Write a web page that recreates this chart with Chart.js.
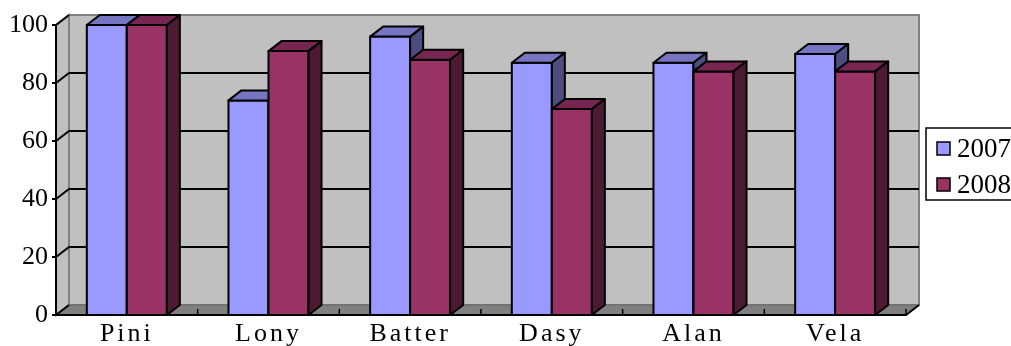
<!DOCTYPE html>
<html>
<head>
<meta charset="utf-8">
<script src="https://cdn.jsdelivr.net/npm/chart.js@4/dist/chart.umd.min.js"></script>
<style>
  body { margin: 0; background: #fff; }
  #wrap { width: 1011px; height: 346px; }
</style>
</head>
<body>
<div id="wrap"><canvas id="bars" width="1011" height="346"></canvas></div>
<script>
// data
var names = ["Pini", "Lony", "Batter", "Dasy", "Alan", "Vela"];
var years = ["2007", "2008"];
var v2007 = [100, 74, 96, 87, 87, 90];
var v2008 = [100, 91, 88, 71, 84, 84];
var yTicks = [0, 20, 40, 60, 80, 100];

// 3d look
var DX = 13, DY = -10;
var front = ["#9999FF", "#993366"];
var topFace = ["#7575C2", "#762650"];
var sideFace = ["#4D4D80", "#4D1A33"];
var serif = "'Liberation Serif', 'DejaVu Serif', serif";

// walls, floor and grid lines behind the bars
var wallPlugin = {
  id: "walls",
  beforeDatasetsDraw: function(chart) {
    var ctx = chart.ctx, a = chart.chartArea, ys = chart.scales.y, xs = chart.scales.x;
    ctx.save();
    // back wall
    ctx.fillStyle = "#C0C0C0";
    ctx.fillRect(a.left + DX, a.top + DY, a.right - a.left, a.bottom - a.top);
    ctx.strokeStyle = "#808080";
    ctx.lineWidth = 2;
    ctx.strokeRect(a.left + DX, a.top + DY, a.right - a.left, a.bottom - a.top);
    // left wall
    ctx.beginPath();
    ctx.moveTo(a.left, a.top);
    ctx.lineTo(a.left + DX, a.top + DY);
    ctx.lineTo(a.left + DX, a.bottom + DY);
    ctx.lineTo(a.left, a.bottom);
    ctx.closePath();
    ctx.fillStyle = "#C0C0C0";
    ctx.fill();
    ctx.stroke();
    // floor
    ctx.beginPath();
    ctx.moveTo(a.left, a.bottom);
    ctx.lineTo(a.left + DX, a.bottom + DY);
    ctx.lineTo(a.right + DX, a.bottom + DY);
    ctx.lineTo(a.right, a.bottom);
    ctx.closePath();
    ctx.fillStyle = "#808080";
    ctx.fill();
    ctx.strokeStyle = "#666";
    ctx.lineWidth = 1;
    ctx.stroke();
    // grid lines on the back and left walls
    ctx.strokeStyle = "#000";
    ctx.lineWidth = 2;
    yTicks.forEach(function(t) {
      var y = ys.getPixelForValue(t);
      ctx.beginPath();
      if (t > 0 && t < 100) {
        ctx.moveTo(a.right + DX, y + DY);
        ctx.lineTo(a.left + DX, y + DY);
      } else {
        ctx.moveTo(a.left + DX, y + DY);
      }
      ctx.lineTo(a.left, y);
      ctx.lineTo(a.left - 4, y);
      ctx.stroke();
    });
    // front axis lines
    ctx.beginPath();
    ctx.moveTo(a.left, a.top);
    ctx.lineTo(a.left, a.bottom);
    ctx.lineTo(a.right, a.bottom);
    ctx.lineTo(a.right + DX, a.bottom + DY);
    ctx.stroke();
    // category ticks on the floor
    ctx.lineWidth = 1.5;
    for (var i = 1; i <= names.length; i++) {
      var x = (xs.getPixelForValue(i - 1) + xs.getPixelForValue(Math.min(i, names.length - 1))) / 2;
      if (i === names.length) x = a.right;
      ctx.beginPath();
      ctx.moveTo(x, a.bottom - 6);
      ctx.lineTo(x, a.bottom);
      ctx.stroke();
    }
    ctx.restore();
  }
};

// boxes: front, top and side faces, drawn per category so they overlap right
var boxPlugin = {
  id: "boxes",
  afterDatasetsDraw: function(chart) {
    var ctx = chart.ctx;
    ctx.save();
    ctx.strokeStyle = "#000";
    ctx.lineWidth = 2;
    ctx.lineJoin = "round";
    for (var i = 0; i < names.length; i++) {
      for (var d = 0; d < chart.data.datasets.length; d++) {
        var bar = chart.getDatasetMeta(d).data[i];
        var p = bar.getProps(["x", "y", "base", "width"], true);
        var l = p.x - p.width / 2, r = p.x + p.width / 2;
        ctx.fillStyle = front[d];
        ctx.fillRect(l, p.y, r - l, p.base - p.y);
        ctx.strokeRect(l, p.y, r - l, p.base - p.y);
        ctx.beginPath();
        ctx.moveTo(l, p.y);
        ctx.lineTo(l + DX, p.y + DY);
        ctx.lineTo(r + DX, p.y + DY);
        ctx.lineTo(r, p.y);
        ctx.closePath();
        ctx.fillStyle = topFace[d];
        ctx.fill();
        ctx.stroke();
        ctx.beginPath();
        ctx.moveTo(r, p.y);
        ctx.lineTo(r + DX, p.y + DY);
        ctx.lineTo(r + DX, p.base + DY);
        ctx.lineTo(r, p.base);
        ctx.closePath();
        ctx.fillStyle = sideFace[d];
        ctx.fill();
        ctx.stroke();
      }
    }
    ctx.restore();
  }
};

// legend box on the right, partly cut off like the original
var legendPlugin = {
  id: "boxLegend",
  afterDraw: function(chart) {
    var ctx = chart.ctx;
    ctx.save();
    ctx.fillStyle = "#fff";
    ctx.fillRect(926, 128, 100, 72);
    ctx.strokeStyle = "#000";
    ctx.lineWidth = 1.5;
    ctx.strokeRect(926, 128, 100, 72);
    ctx.font = "27px " + serif;
    ctx.textBaseline = "middle";
    chart.data.datasets.forEach(function(ds, k) {
      var y = 149 + k * 36;
      ctx.fillStyle = ds.backgroundColor;
      ctx.fillRect(937, y - 7, 13, 13);
      ctx.lineWidth = 1.5;
      ctx.strokeRect(937, y - 7, 13, 13);
      ctx.fillStyle = "#000";
      ctx.fillText(ds.label, 957, y + 1);
    });
    ctx.restore();
  }
};

// wider letters on the category labels
var spacingPlugin = {
  id: "spacing",
  afterLayout: function(chart) {
    var s = chart.scales.x;
    if (s._spaced) return;
    var orig = s.drawLabels.bind(s);
    s.drawLabels = function(area) {
      chart.ctx.save();
      chart.ctx.letterSpacing = "3px";
      orig(area);
      chart.ctx.restore();
    };
    s._spaced = true;
  }
};

new Chart(document.getElementById("bars"), {
  type: "bar",
  data: {
    labels: names,
    datasets: [
      { label: years[0], data: v2007, backgroundColor: front[0], borderWidth: 0 },
      { label: years[1], data: v2008, backgroundColor: front[1], borderWidth: 0 }
    ]
  },
  options: {
    responsive: false,
    animation: false,
    events: [],
    layout: { padding: { top: 25, right: 105, left: 0, bottom: 0 } },
    categoryPercentage: 0.565,
    barPercentage: 1,
    plugins: {
      legend: { display: false },
      tooltip: { enabled: false }
    },
    scales: {
      x: {
        grid: { display: false, drawTicks: false },
        border: { display: false },
        ticks: { color: "#000", padding: 4, maxRotation: 0, font: { family: serif, size: 26 } },
        afterFit: function(s) { s.height = 31; }
      },
      y: {
        min: 0,
        max: 100,
        afterBuildTicks: function(s) { s.ticks = yTicks.map(function(v) { return { value: v }; }); },
        grid: { display: false, drawTicks: false },
        border: { display: false },
        ticks: { color: "#000", padding: 8, font: { family: serif, size: 26 } },
        afterFit: function(s) { s.width = 56; }
      }
    }
  },
  plugins: [wallPlugin, boxPlugin, legendPlugin, spacingPlugin]
});
</script>
</body>
</html>
